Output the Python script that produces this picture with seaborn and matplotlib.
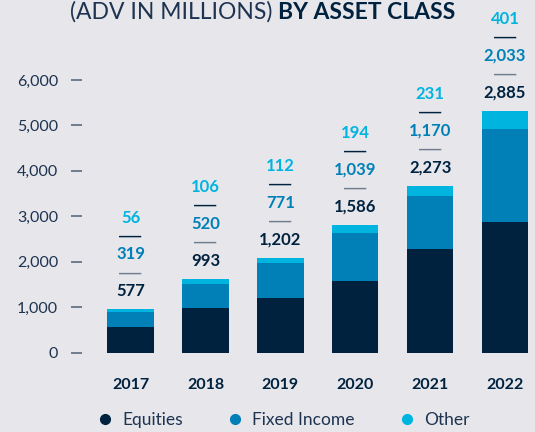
import pandas as pd
import matplotlib.pyplot as plt
import seaborn as sns
from matplotlib.lines import Line2D

years = ["2017", "2018", "2019", "2020", "2021", "2022"]
equities = [577, 993, 1202, 1586, 2273, 2885]
fixed_income = [319, 520, 771, 1039, 1170, 2033]
other = [56, 106, 112, 194, 231, 401]

NAVY = "#00223f"
BLUE = "#0080b7"
CYAN = "#00b4e0"
BG = "#e6e6eb"
TXT = "#1d3350"
GREY = "#6f7d8e"

sns.set_style("white")
plt.rcParams["font.family"] = ["Lato", "DejaVu Sans"]

df = pd.DataFrame({"Year": years, "Equities": equities,
                   "Fixed Income": fixed_income, "Other": other})
df["fi_top"] = df["Equities"] + df["Fixed Income"]
df["total"] = df["fi_top"] + df["Other"]

fig = plt.figure(figsize=(5.35, 4.32), dpi=100, facecolor=BG)
ax = fig.add_axes([0.153, 0.176, 0.847, 0.639])
ax.set_facecolor(BG)

# stacked bars: draw cumulative totals back to front
for col, c in [("total", CYAN), ("fi_top", BLUE), ("Equities", NAVY)]:
    sns.barplot(data=df, x="Year", y=col, color=c, width=0.62, ax=ax,
                saturation=1, linewidth=0)

ax.set_xlim(-0.65, 5.4)
ax.set_ylim(-70, 6000)
ax.set_yticks(range(0, 6001, 1000))
ax.set_yticklabels([f"{v:,}" for v in range(0, 6001, 1000)])
ax.set_xlabel("")
ax.set_ylabel("")
sns.despine(ax=ax, left=True, bottom=True)
ax.tick_params(axis="y", left=True, direction="out", length=8, width=1.4, color=GREY,
               pad=9, labelsize=11.5, labelcolor=TXT)
ax.tick_params(axis="x", length=0, pad=16, labelsize=11.5, labelcolor=NAVY)
for lab in ax.get_xticklabels():
    lab.set_fontweight("bold")

# value labels stacked above each bar
step = 13.3
for i, row in df.iterrows():
    top = row["total"]
    items = [(f"{row['Equities']:,}", NAVY, "text"),
             ("—", GREY, "dash"),
             (f"{row['Fixed Income']:,}", BLUE, "text"),
             ("—", NAVY, "dash"),
             (f"{row['Other']:,}", CYAN, "text")]
    for k, (s, c, kind) in enumerate(items):
        off = 13 + k * step
        if kind == "text":
            ax.annotate(s, (i, top), xytext=(0, off), textcoords="offset points",
                        ha="center", va="center", fontsize=12, fontweight="bold",
                        color=c, annotation_clip=False)
        else:
            ax.annotate(s, (i, top), xytext=(0, off), textcoords="offset points",
                        ha="center", va="center", fontsize=16, color=c,
                        family="Liberation Sans", annotation_clip=False)

# title
fig.text(0.51, 0.972, "(ADV IN MILLIONS)", ha="right", va="center",
         fontsize=16.5, color=TXT, fontweight="normal")
fig.text(0.52, 0.972, "BY ASSET CLASS", ha="left", va="center",
         fontsize=16.5, color=NAVY, fontweight="bold")

handles = [Line2D([], [], marker="o", ls="", color=c, markersize=7)
           for c in [NAVY, BLUE, CYAN]]
fig.legend(handles, ["Equities", "Fixed Income", "Other"], loc="center",
           bbox_to_anchor=(0.53, 0.028), ncol=3, frameon=False,
           fontsize=12.5, labelcolor=TXT, handlelength=0.8, handletextpad=0.6,
           columnspacing=2.6)

fig.savefig("out.png", dpi=100, facecolor=BG)
